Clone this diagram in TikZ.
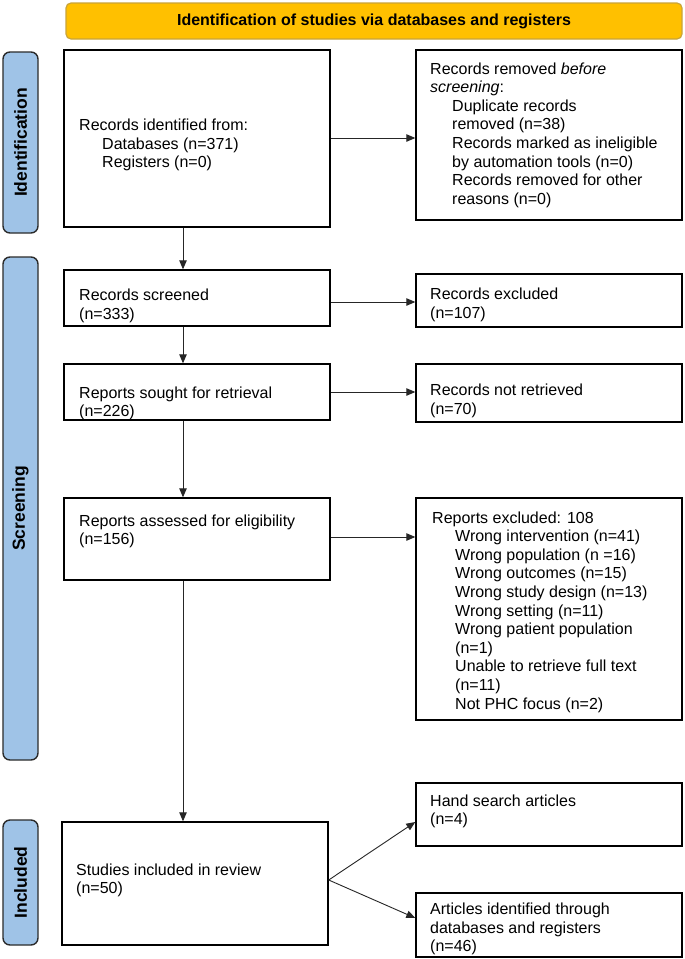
\documentclass[tikz,border=0pt]{standalone}
\usepackage{fontspec}
\setmainfont{Liberation Sans}
\usetikzlibrary{arrows.meta}
\definecolor{hdrfill}{HTML}{FFC000}
\definecolor{hdrline}{HTML}{C9A43A}
\definecolor{sidefill}{HTML}{9FC3E7}
\definecolor{sideline}{HTML}{2B2B2B}
\begin{document}
\begin{tikzpicture}[x=1pt,y=-1pt,
  box/.style={draw=black, line width=1.4pt, inner sep=0pt, fill=white},
  txt/.style={inner sep=0pt, align=left, anchor=west, font=\fontsize{16}{18.6}\selectfont},
  hdr/.style={draw=hdrline, fill=hdrfill, line width=1.2pt, rounded corners=5pt, inner sep=0pt, font=\fontsize{16}{19}\selectfont\bfseries},
  side/.style={draw=sideline, fill=sidefill, line width=1.4pt, rounded corners=7pt, inner sep=0pt},
  sidelbl/.style={inner sep=0pt, rotate=90, font=\fontsize{17.5}{20}\selectfont\bfseries},
  arr/.style={-{Triangle[length=9pt,width=7.5pt]}, line width=0.9pt, draw=black!85}
]
\useasboundingbox (0,0) rectangle (685,959);
\fill[white] (0,0) rectangle (685,959);

% header
\node[hdr, minimum width=616pt, minimum height=36pt] (hdr) at (374,21) {Identification of studies via databases and registers};

% side bars
\node[side, minimum width=35pt, minimum height=181pt] (sideI) at (20.5,142.5) {};
\node[sidelbl] (sideIt) at (sideI.center) {Identification};
\node[side, minimum width=35pt, minimum height=503pt] (sideS) at (20.5,508.5) {};
\node[sidelbl] (sideSt) at (sideS.center) {Screening};
\node[side, minimum width=35pt, minimum height=125pt] (sideN) at (20.5,882.5) {};
\node[sidelbl] (sideNt) at (sideN.center) {Included};

% boxes
\node[box, minimum width=266pt, minimum height=177pt] (ident) at (197,138.5) {};
\node[box, minimum width=266pt, minimum height=170pt] (removed) at (549,135) {};
\node[box, minimum width=266pt, minimum height=56pt] (screened) at (197,298) {};
\node[box, minimum width=266pt, minimum height=53pt] (excluded) at (549,300.5) {};
\node[box, minimum width=266pt, minimum height=56pt] (sought) at (197,392) {};
\node[box, minimum width=266pt, minimum height=58pt] (notret) at (549,393) {};
\node[box, minimum width=266pt, minimum height=82pt] (assessed) at (197,539) {};
\node[box, minimum width=266pt, minimum height=222pt] (repexcl) at (549,609) {};
\node[box, minimum width=266pt, minimum height=123pt] (studies) at (195,883.5) {};
\node[box, minimum width=266pt, minimum height=63pt] (hand) at (549,814.5) {};
\node[box, minimum width=266pt, minimum height=64pt] (articles) at (549,925) {};

% texts
\node[txt] (identT) at (79,145) {Records identified from:\\
\hspace*{23pt}Databases (n=371)\\
\hspace*{23pt}Registers (n=0)};
\node[txt] (removedT) at (430,135) {Records removed \textit{before}\\
\textit{screening}:\\
\hspace*{22pt}Duplicate records\\
\hspace*{22pt}removed (n=38)\\
\hspace*{22pt}Records marked as ineligible\\
\hspace*{22pt}by automation tools (n=0)\\
\hspace*{22pt}Records removed for other\\
\hspace*{22pt}reasons (n=0)};
\node[txt] (screenedT) at (79,306) {Records screened\\(n=333)};
\node[txt] (excludedT) at (430,305) {Records excluded\\(n=107)};
\node[txt] (soughtT) at (79,403.5) {Reports sought for retrieval\\(n=226)};
\node[txt] (notretT) at (430,401) {Records not retrieved\\(n=70)};
\node[txt] (assessedT) at (79,531.5) {Reports assessed for eligibility\\(n=156)};
\node[txt] (repexclT) at (432,612) {Reports excluded: 108\\
\hspace*{23pt}Wrong intervention (n=41)\\
\hspace*{23pt}Wrong population (n =16)\\
\hspace*{23pt}Wrong outcomes (n=15)\\
\hspace*{23pt}Wrong study design (n=13)\\
\hspace*{23pt}Wrong setting (n=11)\\
\hspace*{23pt}Wrong patient population\\
\hspace*{23pt}(n=1)\\
\hspace*{23pt}Unable to retrieve full text\\
\hspace*{23pt}(n=11)\\
\hspace*{23pt}Not PHC focus (n=2)};
\node[txt] (studiesT) at (76,880.5) {Studies included in review\\(n=50)};
\node[txt] (handT) at (430,811.5) {Hand search articles\\(n=4)};
\node[txt] (articlesT) at (430,929) {Articles identified through\\databases and registers\\(n=46)};

% arrows
\draw[arr] (ident.south -| 183,0) -- (screened.north -| 183,0);
\draw[arr] (screened.south -| 183,0) -- (sought.north -| 183,0);
\draw[arr] (sought.south -| 183,0) -- (assessed.north -| 183,0);
\draw[arr] (assessed.south -| 183,0) -- (studies.north -| 183,0);
\draw[arr] (ident.east |- 0,138) -- (removed.west |- 0,138);
\draw[arr] (screened.east |- 0,302) -- (excluded.west |- 0,302);
\draw[arr] (sought.east) -- (notret.west |- sought.east);
\draw[arr] (assessed.east |- 0,537) -- (repexcl.west |- 0,537);
\coordinate (split) at (studies.east |- 0,880);
\draw[arr] (split) -- (hand.west |- 0,822);
\draw[arr] (split) -- (articles.west |- 0,918);
\end{tikzpicture}
\end{document}
